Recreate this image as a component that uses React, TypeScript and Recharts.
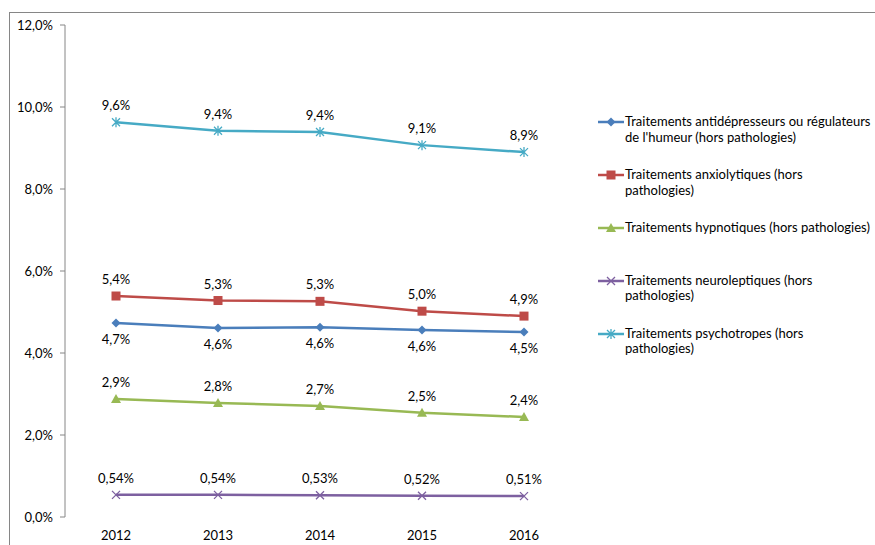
import { LabelList, Legend, Line, LineChart, XAxis, YAxis } from "recharts";

const years = ["2012", "2013", "2014", "2015", "2016"];
const antidepresseurs = [4.73, 4.61, 4.63, 4.56, 4.51];
const anxiolytiques = [5.39, 5.28, 5.26, 5.02, 4.9];
const hypnotiques = [2.88, 2.78, 2.71, 2.54, 2.44];
const neuroleptiques = [0.54, 0.54, 0.53, 0.52, 0.51];
const psychotropes = [9.63, 9.42, 9.39, 9.07, 8.9];
const yTicks = [0, 2, 4, 6, 8, 10, 12];
const bandTicks = [0, 1, 2, 3, 4, 5];

type Shape = "diamond" | "square" | "triangle" | "cross" | "star";

const series: {
  key: string;
  name: string;
  color: string;
  shape: Shape;
  values: number[];
  decimals: number;
  labelPos: "top" | "bottom";
}[] = [
  {
    key: "antidep",
    name: "Traitements antidépresseurs ou régulateurs\nde l'humeur (hors pathologies)",
    color: "#4a7ebb",
    shape: "diamond",
    values: antidepresseurs,
    decimals: 1,
    labelPos: "bottom"
  },
  {
    key: "anxio",
    name: "Traitements anxiolytiques (hors\npathologies)",
    color: "#be4b48",
    shape: "square",
    values: anxiolytiques,
    decimals: 1,
    labelPos: "top"
  },
  {
    key: "hypno",
    name: "Traitements hypnotiques (hors pathologies)",
    color: "#98b954",
    shape: "triangle",
    values: hypnotiques,
    decimals: 1,
    labelPos: "top"
  },
  {
    key: "neuro",
    name: "Traitements neuroleptiques (hors\npathologies)",
    color: "#7d60a0",
    shape: "cross",
    values: neuroleptiques,
    decimals: 2,
    labelPos: "top"
  },
  {
    key: "psycho",
    name: "Traitements psychotropes (hors\npathologies)",
    color: "#46aac5",
    shape: "star",
    values: psychotropes,
    decimals: 1,
    labelPos: "top"
  }
];

const data = years.map((year, i) => {
  const row: Record<string, string | number> = { year };
  series.forEach((s) => {
    row[s.key] = s.values[i];
  });
  return row;
});

const FONT = "Lato, 'Liberation Sans', sans-serif";
const AXIS = "#868686";

const pct = (v: number, d: number) => v.toFixed(d).replace(".", ",") + "%";

function Marker({ shape, color, cx, cy }: { shape: Shape; color: string; cx: number; cy: number }) {
  if (shape === "diamond") {
    return <path d={`M${cx},${cy - 4.5}L${cx + 4.5},${cy}L${cx},${cy + 4.5}L${cx - 4.5},${cy}Z`} fill={color} />;
  }
  if (shape === "square") {
    return <rect x={cx - 4.5} y={cy - 4.5} width={9} height={9} fill={color} />;
  }
  if (shape === "triangle") {
    return <path d={`M${cx},${cy - 5}L${cx + 5},${cy + 4}L${cx - 5},${cy + 4}Z`} fill={color} />;
  }
  const cross = `M${cx - 4},${cy - 4}L${cx + 4},${cy + 4}M${cx - 4},${cy + 4}L${cx + 4},${cy - 4}`;
  if (shape === "cross") {
    return <path d={cross} stroke={color} strokeWidth={1.3} fill="none" />;
  }
  return <path d={`${cross}M${cx},${cy - 5}L${cx},${cy + 5}`} stroke={color} strokeWidth={1.3} fill="none" />;
}

function ChartLegend() {
  return (
    <div style={{ fontFamily: FONT, fontSize: 13, color: "#000", lineHeight: "15.5px" }}>
      {series.map((s, i) => (
        <div key={s.key} style={{ display: "flex", alignItems: "flex-start", marginBottom: i === 2 ? 36.5 : 22 }}>
          <svg width={28} height={16} style={{ flexShrink: 0 }}>
            <line x1={1} y1={8} x2={27} y2={8} stroke={s.color} strokeWidth={2.5} />
            <Marker shape={s.shape} color={s.color} cx={14} cy={8} />
          </svg>
          <span style={{ whiteSpace: "pre-line" }}>{s.name}</span>
        </div>
      ))}
    </div>
  );
}

export default function App() {
  return (
    <div style={{ position: "absolute", left: 0, top: 0, width: 875, height: 545, background: "#fff" }}>
      <div
        style={{
          position: "absolute",
          left: 9,
          top: 12,
          right: 0,
          bottom: 0,
          borderTop: `1px solid ${AXIS}`,
          borderLeft: `1px solid ${AXIS}`
        }}
      />
      <LineChart
        width={875}
        height={545}
        data={data}
        margin={{ top: 25, right: 300, bottom: 0, left: 0 }}
        style={{ fontFamily: FONT }}
      >
        <XAxis
          xAxisId="bands"
          type="number"
          domain={[0, 5]}
          ticks={bandTicks}
          allowDataOverflow
          height={0}
          stroke={AXIS}
          tickSize={5}
          tickFormatter={() => ""}
        />
        <XAxis
          xAxisId="cat"
          dataKey="year"
          scale="band"
          axisLine={false}
          tickLine={false}
          height={28}
          tickMargin={8}
          tick={{ fontSize: 13, fill: "#000" }}
        />
        <YAxis
          domain={[0, 12]}
          ticks={yTicks}
          width={65}
          stroke={AXIS}
          tickSize={5}
          tickMargin={7}
          tickFormatter={(v: number) => pct(v, 1)}
          tick={{ fontSize: 13, fill: "#000" }}
        />
        <Legend
          layout="horizontal"
          align="center"
          verticalAlign="middle"
          wrapperStyle={{ left: 597, top: 114, width: 278 }}
          content={() => <ChartLegend />}
        />
        {series.map((s) => (
          <Line
            key={s.key}
            xAxisId="cat"
            dataKey={s.key}
            name={s.name}
            stroke={s.color}
            strokeWidth={2.5}
            isAnimationActive={false}
            dot={(p: any) => (
              <g key={`${s.key}-${p.index}`}>
                <Marker shape={s.shape} color={s.color} cx={p.cx} cy={p.cy} />
              </g>
            )}
            activeDot={false}
          >
            <LabelList
              dataKey={s.key}
              position={s.labelPos}
              offset={12}
              fontSize={13}
              fill="#000"
              formatter={(v: any) => pct(Number(v), s.decimals)}
            />
          </Line>
        ))}
      </LineChart>
    </div>
  );
}
